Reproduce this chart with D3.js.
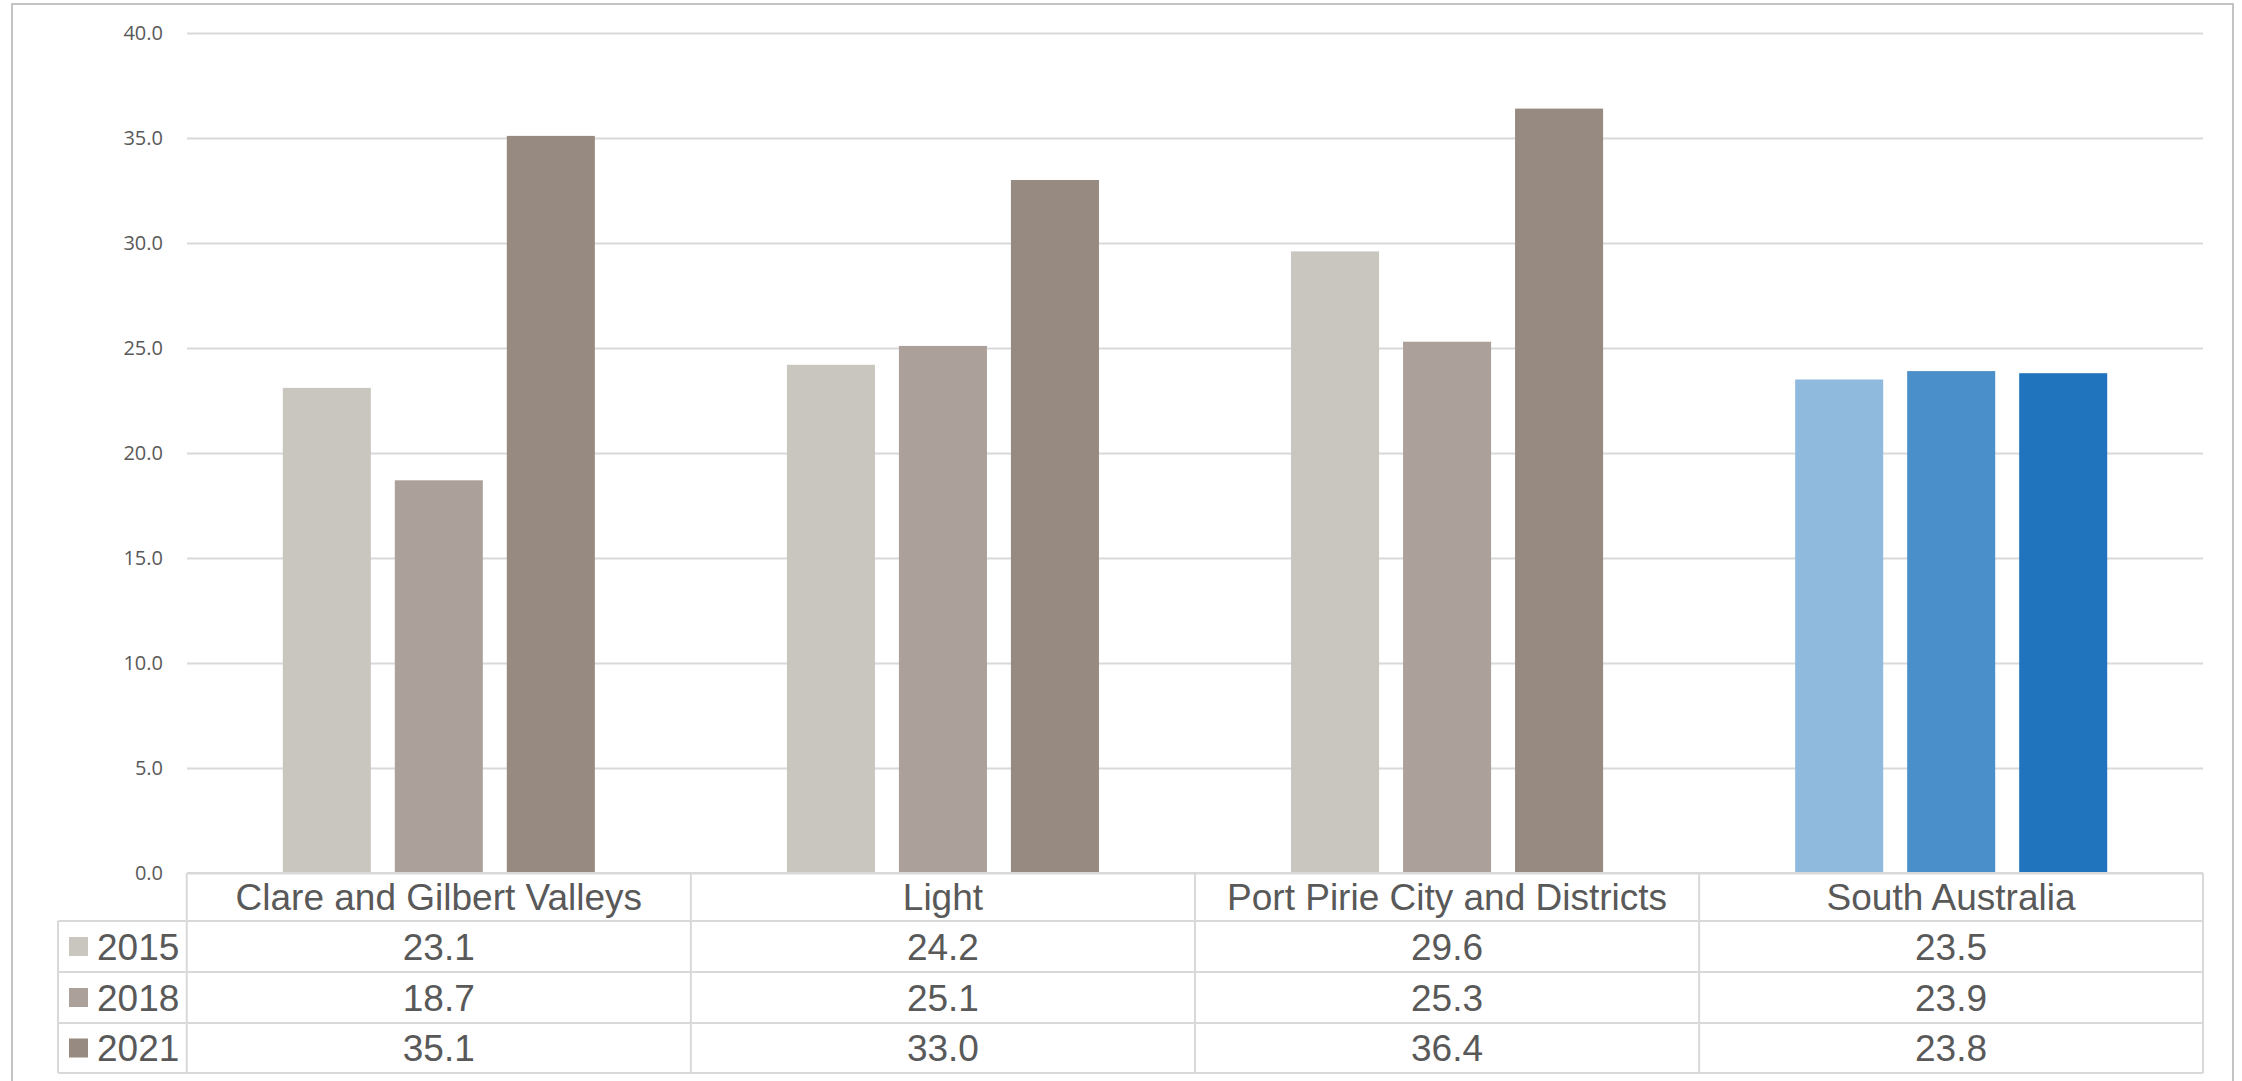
<!DOCTYPE html>
<html>
<head>
<meta charset="utf-8">
<script src="https://cdn.jsdelivr.net/npm/d3@7"></script>
<style>
  html, body { margin: 0; padding: 0; background: #ffffff; }
  svg { display: block; }
</style>
</head>
<body>
<svg id="chart" width="2242" height="1081"></svg>
<script>
// Regions and survey years
const categories = ["Clare and Gilbert Valleys", "Light", "Port Pirie City and Districts", "South Australia"];
const years = ["2015", "2018", "2021"];

// Percentage values per year, one entry per region
const values2015 = [23.1, 24.2, 29.6, 23.5];
const values2018 = [18.7, 25.1, 25.3, 23.9];
const values2021 = [35.1, 33.0, 36.4, 23.8];

// Y-axis tick values
const yTicks = [0, 5, 10, 15, 20, 25, 30, 35, 40];

// Series colours (regions in grey-brown, state total in blue)
const greyColors = ["#C9C5BF", "#ABA19A", "#978A80"];
const blueColors = ["#8FBADD", "#4A8FC9", "#1F74BD"];
const highlightCategory = "South Australia";

const seriesValues = [values2015, values2018, values2021];

const svg = d3.select("#chart");
const textColor = "#595959";
const lineColor = "#D9D9D9";

// Outer frame
svg.append("rect")
  .attr("x", 12).attr("y", 4)
  .attr("width", 2221).attr("height", 1090)
  .attr("fill", "none")
  .attr("stroke", "#C4C4C4")
  .attr("stroke-width", 2);

// Plot geometry
const plotLeft = 187, plotRight = 2203;
const plotTop = 33, plotBottom = 873;

const x0 = d3.scaleBand()
  .domain(categories)
  .range([plotLeft, plotRight])
  .paddingInner(0.381)
  .paddingOuter(0.19);

const x1 = d3.scaleBand()
  .domain(years)
  .range([0, x0.bandwidth()])
  .paddingInner(0.214)
  .paddingOuter(0);

const y = d3.scaleLinear()
  .domain([0, 40])
  .range([plotBottom, plotTop]);

// Horizontal gridlines and tick labels
const yAxis = d3.axisLeft(y)
  .tickValues(yTicks)
  .tickFormat(d => d.toFixed(1))
  .tickSize(-(plotRight - plotLeft))
  .tickPadding(24);

const gAxis = svg.append("g")
  .attr("transform", `translate(${plotLeft},0)`)
  .call(yAxis);
gAxis.select(".domain").remove();
gAxis.selectAll(".tick line")
  .attr("stroke", lineColor)
  .attr("stroke-width", 2);
gAxis.selectAll(".tick text")
  .attr("fill", textColor)
  .attr("font-family", "'Open Sans', 'Liberation Sans', sans-serif")
  .attr("font-size", 20);

// Bars
const rows = [];
categories.forEach((cat, ci) => {
  years.forEach((yr, si) => {
    rows.push({ cat, yr, si, value: seriesValues[si][ci] });
  });
});

svg.append("g")
  .selectAll("rect")
  .data(rows)
  .join("rect")
  .attr("x", d => x0(d.cat) + x1(d.yr))
  .attr("y", d => y(d.value))
  .attr("width", x1.bandwidth())
  .attr("height", d => y(0) - y(d.value))
  .attr("fill", d => d.cat === highlightCategory ? blueColors[d.si] : greyColors[d.si]);

// Data table below the plot
const tableFont = "'Liberation Sans', Arial, sans-serif";
const tableFontSize = 37;
const headerTop = 873, headerBottom = 921;
const rowEdges = [921, 972, 1023, 1073];
const legendLeft = 58;
const colEdges = categories.map(c => x0(c) - x0.step() * x0.paddingInner() / 2);
colEdges.push(plotRight);

const table = svg.append("g");

// Header cells (category names)
table.append("line")
  .attr("x1", plotLeft).attr("x2", plotRight)
  .attr("y1", headerTop).attr("y2", headerTop)
  .attr("stroke", lineColor).attr("stroke-width", 2);

categories.forEach((cat, ci) => {
  table.append("text")
    .attr("x", (colEdges[ci] + colEdges[ci + 1]) / 2)
    .attr("y", (headerTop + headerBottom) / 2)
    .attr("dy", "0.36em")
    .attr("text-anchor", "middle")
    .attr("font-family", tableFont)
    .attr("font-size", tableFontSize)
    .attr("fill", textColor)
    .text(cat);
});

// Horizontal rules of the body rows
rowEdges.forEach(yy => {
  table.append("line")
    .attr("x1", legendLeft).attr("x2", plotRight)
    .attr("y1", yy).attr("y2", yy)
    .attr("stroke", lineColor).attr("stroke-width", 2);
});

// Vertical rules
table.append("line")
  .attr("x1", legendLeft).attr("x2", legendLeft)
  .attr("y1", headerBottom).attr("y2", rowEdges[rowEdges.length - 1])
  .attr("stroke", lineColor).attr("stroke-width", 2);
colEdges.forEach(xx => {
  table.append("line")
    .attr("x1", xx).attr("x2", xx)
    .attr("y1", headerTop).attr("y2", rowEdges[rowEdges.length - 1])
    .attr("stroke", lineColor).attr("stroke-width", 2);
});

// Body rows: legend key, year, and the value for each region
years.forEach((yr, si) => {
  const top = rowEdges[si], bottom = rowEdges[si + 1];
  const mid = (top + bottom) / 2;
  table.append("rect")
    .attr("x", 69).attr("y", mid - 9.5)
    .attr("width", 19).attr("height", 19)
    .attr("fill", greyColors[si]);
  table.append("text")
    .attr("x", 97).attr("y", mid)
    .attr("dy", "0.36em")
    .attr("font-family", tableFont)
    .attr("font-size", tableFontSize)
    .attr("fill", textColor)
    .text(yr);
  categories.forEach((cat, ci) => {
    table.append("text")
      .attr("x", (colEdges[ci] + colEdges[ci + 1]) / 2)
      .attr("y", mid)
      .attr("dy", "0.36em")
      .attr("text-anchor", "middle")
      .attr("font-family", tableFont)
      .attr("font-size", tableFontSize)
      .attr("fill", textColor)
      .text(seriesValues[si][ci].toFixed(1));
  });
});
</script>
</body>
</html>
